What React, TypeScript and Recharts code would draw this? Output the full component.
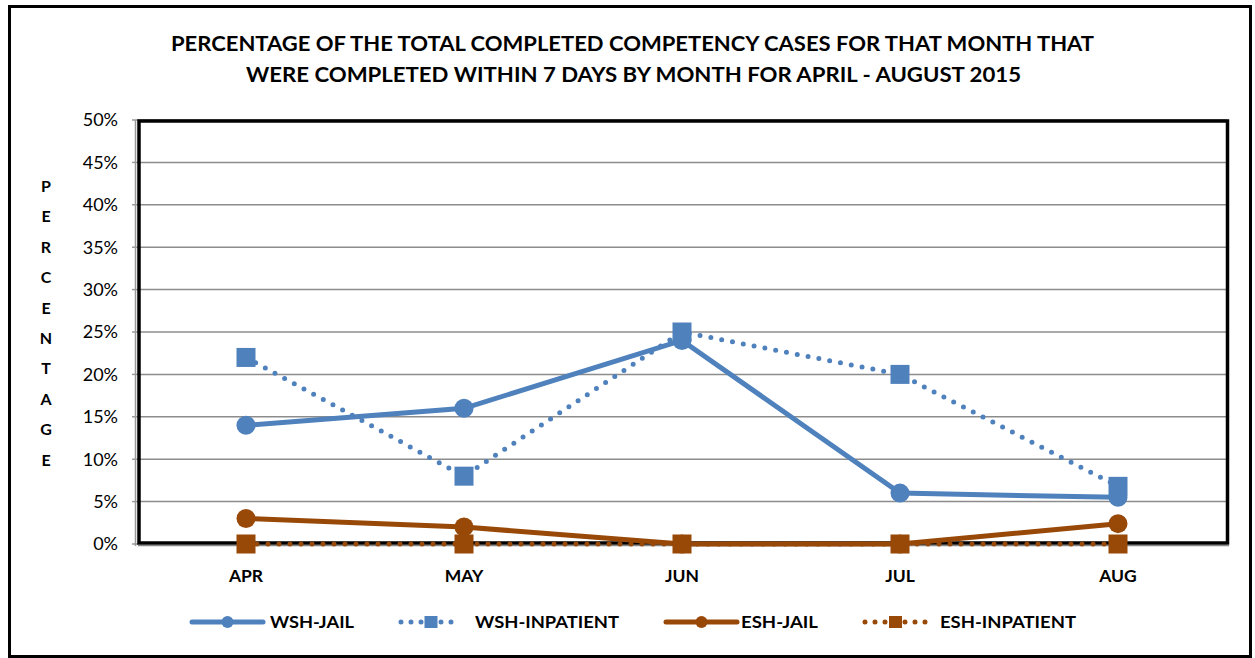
import React from 'react';
import { LineChart, Line, XAxis, YAxis, CartesianGrid } from 'recharts';

// values (percent)
const months = ['APR', 'MAY', 'JUN', 'JUL', 'AUG'];
const wshJail = [14, 16, 24, 6, 5.5];
const wshInpatient = [22, 8, 25, 20, 6.8];
const eshJail = [3, 2, 0, 0, 2.4];
const eshInpatient = [0, 0, 0, 0, 0];
const yTicks = [0, 5, 10, 15, 20, 25, 30, 35, 40, 45, 50];
const bandTicks = [0, 1, 2, 3, 4, 5];

const BLUE = '#4F81BD';
const BROWN = '#984807';
const FONT = 'Lato, "Open Sans", sans-serif';

const series = [
  { key: 'wshJail', name: 'WSH-JAIL', color: BLUE, dotted: false },
  { key: 'wshInpatient', name: 'WSH-INPATIENT', color: BLUE, dotted: true },
  { key: 'eshJail', name: 'ESH-JAIL', color: BROWN, dotted: false },
  { key: 'eshInpatient', name: 'ESH-INPATIENT', color: BROWN, dotted: true },
];

const data = months.map((m, i) => ({
  month: m,
  wshJail: wshJail[i],
  wshInpatient: wshInpatient[i],
  eshJail: eshJail[i],
  eshInpatient: eshInpatient[i],
}));

const CircleDot = (props: any) => {
  const { cx, cy, stroke } = props;
  if (cx == null || cy == null) return null;
  return <circle key={`c-${cx}`} cx={cx} cy={cy} r={9.5} fill={stroke} />;
};

const SquareDot = (props: any) => {
  const { cx, cy, stroke } = props;
  if (cx == null || cy == null) return null;
  return <rect key={`s-${cx}`} x={cx - 9.5} y={cy - 9.5} width={19} height={19} fill={stroke} />;
};

// plot frame (drawn under the lines)
const PlotFrame = () => (
  <g>
    <line x1={135.5} y1={120} x2={135.5} y2={546} stroke="#999" strokeWidth={1.5} />
    <rect x={139} y={121} width={1088.5} height={422} fill="none" stroke="#000" strokeWidth={3.5} />
    <line x1={138} y1={545.5} x2={1229} y2={545.5} stroke="#888" strokeWidth={1.5} />
  </g>
);

const legendPos = [
  { x: 192, w: 71, tx: 270, tw: 84 },
  { x: 399, w: 64, tx: 475, tw: 144 },
  { x: 666, w: 71, tx: 741, tw: 77 },
  { x: 863, w: 65, tx: 940, tw: 136 },
];

const Overlay = () => (
  <svg width={1255} height={658} style={{ position: 'absolute', left: 0, top: 0, pointerEvents: 'none' }}>
    <rect x={9.5} y={6.5} width={1241} height={650} fill="none" stroke="#000" strokeWidth={3} />
    <g fontFamily={FONT} fontWeight={700} fontSize={21} fill="#000">
      <text x={171} y={50.5} textLength={923} lengthAdjust="spacingAndGlyphs">
        PERCENTAGE OF THE TOTAL COMPLETED COMPETENCY CASES FOR THAT MONTH THAT
      </text>
      <text x={246} y={82} textLength={775} lengthAdjust="spacingAndGlyphs">
        WERE COMPLETED WITHIN 7 DAYS BY MONTH FOR APRIL - AUGUST 2015
      </text>
    </g>
    <g fontFamily={FONT} fontWeight={700} fontSize={16} fill="#000" textAnchor="middle">
      {'PERCENTAGE'.split('').map((ch, i) => (
        <text key={i} x={46} y={192 + i * 30.4}>
          {ch}
        </text>
      ))}
    </g>
    {series.map((s, i) => {
      const p = legendPos[i];
      const mid = p.x + p.w / 2;
      return (
        <g key={s.key}>
          {s.dotted ? (
            <>
              <line x1={p.x + 2} y1={622} x2={p.x + p.w - 2} y2={622} stroke={s.color} strokeWidth={5} strokeDasharray="0 10" strokeLinecap="round" />
              <rect x={mid - 6.5} y={616} width={13} height={12} fill={s.color} />
            </>
          ) : (
            <>
              <line x1={p.x} y1={622} x2={p.x + p.w} y2={622} stroke={s.color} strokeWidth={5} strokeLinecap="round" />
              <circle cx={mid} cy={622} r={6} fill={s.color} />
            </>
          )}
          <text x={p.tx} y={628} fontFamily={FONT} fontWeight={700} fontSize={17} fill="#000" textLength={p.tw} lengthAdjust="spacingAndGlyphs">
            {s.name}
          </text>
        </g>
      );
    })}
  </svg>
);

export default function App() {
  return (
    <div style={{ position: 'absolute', left: 0, top: 0, width: 1255, height: 658, background: '#fff' }}>
      <LineChart
        width={1255}
        height={658}
        data={data}
        margin={{ top: 120, right: 28, bottom: 74, left: 77 }}
      >
        <CartesianGrid vertical={false} stroke="#8c8c8c" strokeWidth={1.5} />
        <PlotFrame />
        <XAxis
          xAxisId="bands"
          type="number"
          domain={[0, 5]}
          ticks={bandTicks}
          allowDataOverflow
          tick={false}
          tickSize={6}
          tickLine={{ stroke: '#999', strokeWidth: 1.5 }}
          axisLine={false}
          height={0}
        />
        <XAxis
          xAxisId="cat"
          dataKey="month"
          padding={{ left: 109, right: 109 }}
          tickLine={false}
          axisLine={false}
          tickMargin={20}
          height={40}
          tick={{ fill: '#000', fontSize: 17.5, fontWeight: 700, fontFamily: FONT }}
        />
        <YAxis
          domain={[0, 50]}
          ticks={yTicks}
          width={60}
          tickFormatter={(v) => `${v}%`}
          tickSize={5}
          tickMargin={14}
          tickLine={{ stroke: '#999', strokeWidth: 1.5 }}
          axisLine={false}
          tick={{ fill: '#000', fontSize: 18, fontFamily: FONT }}
        />
        {series.map((s) => (
          <Line
            key={s.key}
            xAxisId="cat"
            dataKey={s.key}
            name={s.name}
            type="linear"
            stroke={s.color}
            strokeWidth={5}
            strokeDasharray={s.dotted ? '0 11' : undefined}
            strokeLinecap="round"
            dot={s.dotted ? <SquareDot /> : <CircleDot />}
            activeDot={false}
            isAnimationActive={false}
          />
        ))}
      </LineChart>
      <Overlay />
    </div>
  );
}
